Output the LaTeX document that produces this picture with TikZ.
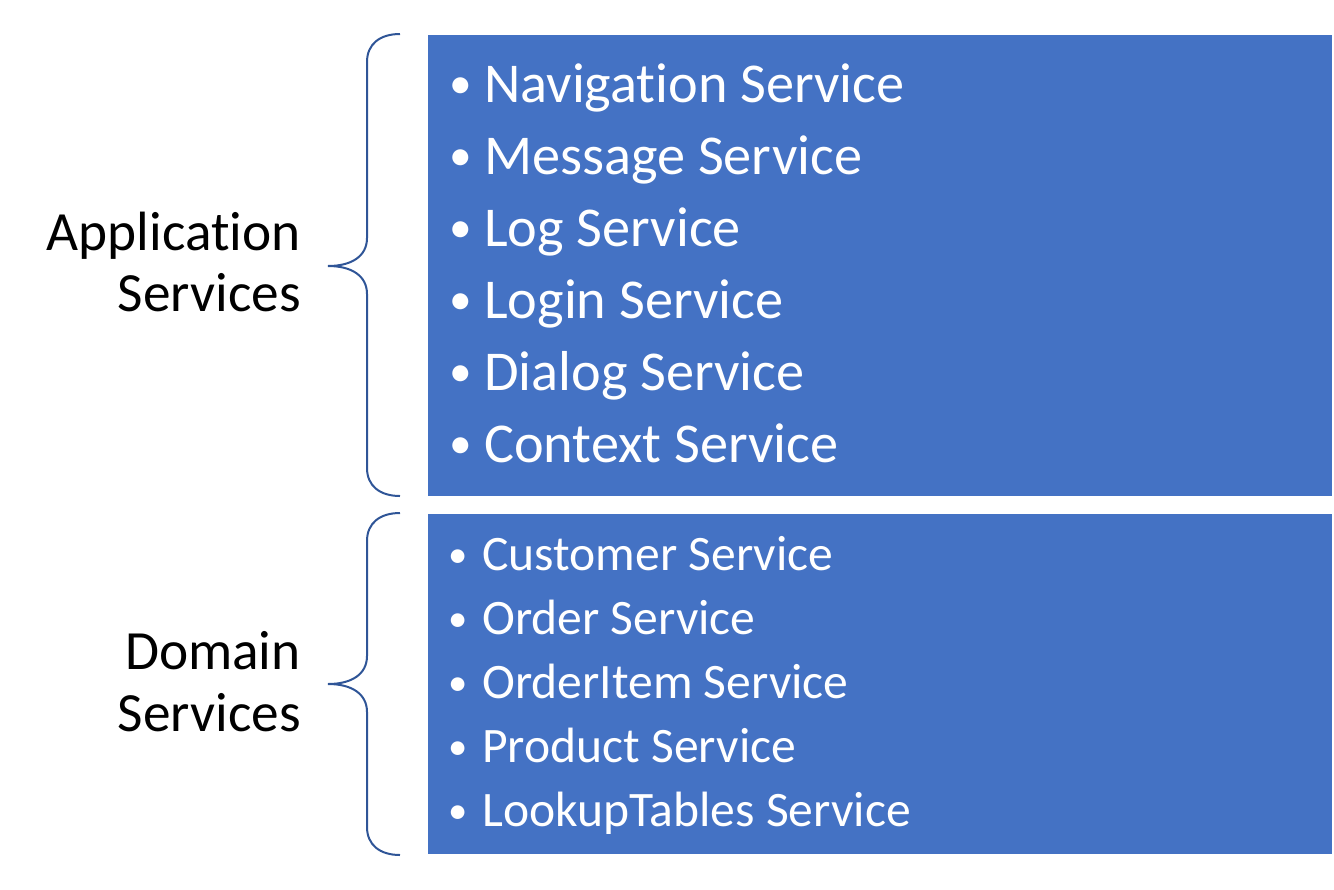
\documentclass[tikz,border=0pt]{standalone}
\usepackage{fontspec}
\setmainfont{Carlito}[Ligatures=NoCommon]
\definecolor{boxblue}{HTML}{4472C4}
\definecolor{bracecol}{HTML}{2F5597}
\newcommand{\bigbul}{\makebox[27.75pt][l]{\hspace{1.5pt}\raisebox{2.4pt}{\fontsize{34}{34}\selectfont •}}}
\newcommand{\smallbul}{\makebox[27pt][l]{\hspace{1.5pt}\raisebox{2.2pt}{\fontsize{29}{29}\selectfont •}}}
\begin{document}
\begin{tikzpicture}[x=0.75pt,y=-0.75pt,
  box/.style={fill=boxblue,draw=none},
  bigitem/.style={anchor=base west,text=white,inner sep=0pt,font=\fontsize{42.2}{50}\selectfont},
  smallitem/.style={anchor=base west,text=white,inner sep=0pt,font=\fontsize{37.2}{44}\selectfont},
  lbl/.style={anchor=base east,text=black,inner sep=0pt,font=\fontsize{41.5}{46}\selectfont},
  brace/.style={draw=bracecol,line width=1.5pt}]
\useasboundingbox (0,0) rectangle (1334,889);
\fill[box] (428,35) rectangle (1332,496);
\fill[box] (428,514) rectangle (1332,854);
% braces
\draw[brace] (400,34) .. controls (380,34) and (367,44) .. (367,62)
  -- (367,238) .. controls (367,256) and (352,266) .. (328,266)
  .. controls (352,266) and (367,276) .. (367,294)
  -- (367,468) .. controls (367,486) and (380,496) .. (400,496);
\draw[brace] (400,513) .. controls (380,513) and (367,523) .. (367,541)
  -- (367,656) .. controls (367,674) and (352,684) .. (328,684)
  .. controls (352,684) and (367,694) .. (367,712)
  -- (367,827) .. controls (367,845) and (380,855) .. (400,855);
% labels
\node[lbl] (l1) at (301,250) {Application};
\node[lbl] (l2) at (301,311) {Services};
\node[lbl] (l3) at (301,669) {Domain};
\node[lbl] (l4) at (301,731) {Services};
% top items
\foreach \t [count=\i] in {Navigation Service,Message Service,Log Service,Login Service,Dialog Service,Context Service}{
  \node[bigitem] (a\i) at (447,{102+72*(\i-1)}) {\bigbul\t};
}
\foreach \t [count=\i] in {Customer Service,Order Service,OrderItem Service,Product Service,LookupTables Service}{
  \node[smallitem] (d\i) at (446,{570+64*(\i-1)}) {\smallbul\t};
}
\end{tikzpicture}
\end{document}
